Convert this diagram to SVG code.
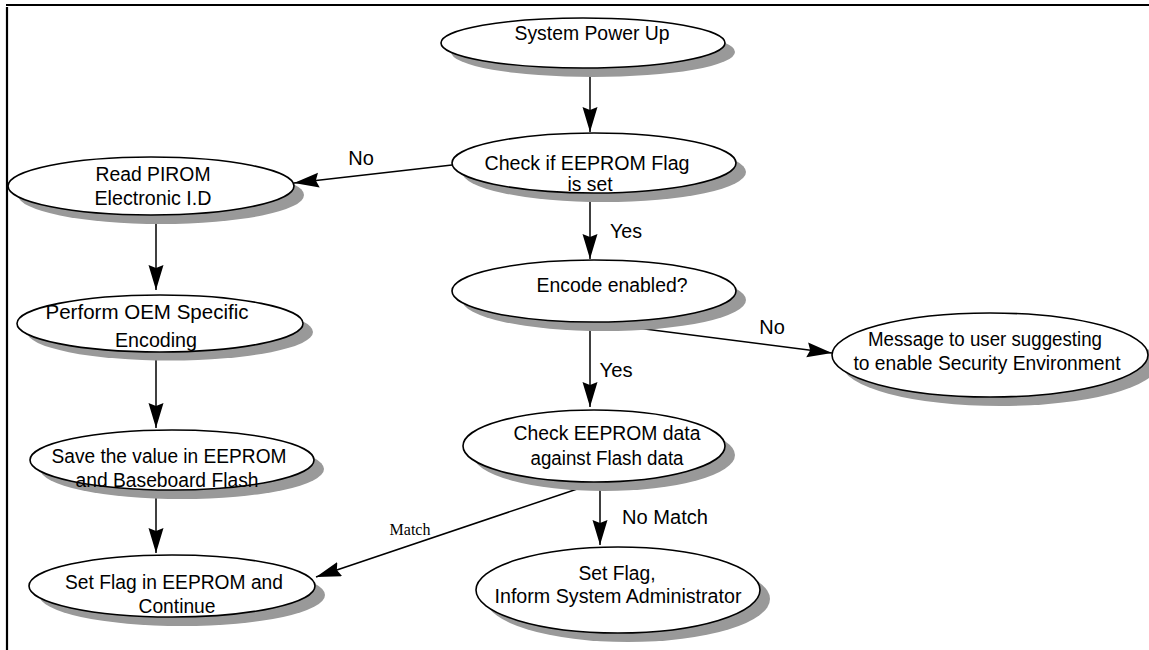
<svg xmlns="http://www.w3.org/2000/svg" width="1149" height="650" viewBox="0 0 1149 650">
<style>
.sh{fill:#999999;stroke:none}
.el{fill:#ffffff;stroke:#000000;stroke-width:1.6}
.t{font-family:"Liberation Sans",Arial,sans-serif;font-size:20px;fill:#000;text-anchor:middle}
.lb{font-family:"Liberation Sans",Arial,sans-serif;font-size:20px;fill:#000;text-anchor:middle}
.ls{font-family:"Liberation Serif","Times New Roman",serif;font-size:16px;fill:#000;text-anchor:middle}
.ln{stroke:#000;stroke-width:1.5;fill:none;marker-end:url(#ah)}
.bd{stroke:#000;stroke-width:2.2;fill:none}
</style>
<defs>
<marker id="ah" markerUnits="userSpaceOnUse" markerWidth="26" markerHeight="16" refX="25" refY="7.5" orient="auto">
<path d="M0,0 L25,7.5 L0,15 L3,7.5 z" fill="#000"/>
</marker>
</defs>
<rect width="1149" height="650" fill="#fff"/>
<g id="border">
<line class="bd" x1="6" y1="5" x2="1149" y2="5"/>
<line class="bd" x1="7" y1="7" x2="7" y2="650"/>
</g>
<g id="connectors">
<line class="ln" x1="590" y1="68" x2="590" y2="132"/>
<line class="ln" x1="452" y1="165" x2="294" y2="183"/>
<line class="ln" x1="590" y1="193" x2="590" y2="259"/>
<line class="ln" x1="156" y1="215" x2="156" y2="290"/>
<line class="ln" x1="156" y1="352" x2="156" y2="428"/>
<line class="ln" x1="156" y1="490" x2="156" y2="553"/>
<line class="ln" x1="590" y1="322" x2="590" y2="407"/>
<line class="ln" x1="590" y1="322" x2="832" y2="353"/>
<line class="ln" x1="600" y1="482" x2="600" y2="545"/>
<line class="ln" x1="598" y1="482" x2="316" y2="577"/>
<text class="lb" x="361" y="165">No</text>
<text class="lb" x="626" y="238" textLength="32" lengthAdjust="spacingAndGlyphs">Yes</text>
<text class="lb" x="616" y="377" textLength="33" lengthAdjust="spacingAndGlyphs">Yes</text>
<text class="lb" x="772" y="334">No</text>
<text class="lb" x="665" y="524" textLength="86" lengthAdjust="spacingAndGlyphs">No Match</text>
<text class="ls" x="410" y="535">Match</text>
</g>
<g id="n_power">
<ellipse class="sh" cx="593" cy="52" rx="142" ry="25"/>
<ellipse class="el" cx="583" cy="43" rx="142" ry="25"/>
<text class="t" x="592" y="40" textLength="155" lengthAdjust="spacingAndGlyphs">System Power Up</text>
</g>
<g id="n_checkflag">
<ellipse class="sh" cx="604" cy="172" rx="142" ry="30"/>
<ellipse class="el" cx="594" cy="163" rx="142" ry="30"/>
<text class="t" x="587" y="170" textLength="205" lengthAdjust="spacingAndGlyphs">Check if EEPROM Flag</text>
<text class="t" x="590" y="191" textLength="45" lengthAdjust="spacingAndGlyphs">is set</text>
</g>
<g id="n_readpirom">
<ellipse class="sh" cx="161" cy="195" rx="143" ry="29"/>
<ellipse class="el" cx="151" cy="186" rx="143" ry="29"/>
<text class="t" x="153" y="181" textLength="115" lengthAdjust="spacingAndGlyphs">Read PIROM</text>
<text class="t" x="153" y="205" textLength="117" lengthAdjust="spacingAndGlyphs">Electronic I.D</text>
</g>
<g id="n_perform">
<ellipse class="sh" cx="170" cy="332" rx="143" ry="28.5"/>
<ellipse class="el" cx="160" cy="323.5" rx="143" ry="28.5"/>
<text class="t" x="147" y="319" textLength="203" lengthAdjust="spacingAndGlyphs">Perform OEM Specific</text>
<text class="t" x="156" y="347" textLength="82" lengthAdjust="spacingAndGlyphs">Encoding</text>
</g>
<g id="n_save">
<ellipse class="sh" cx="182" cy="469" rx="142" ry="30"/>
<ellipse class="el" cx="172" cy="460" rx="142" ry="30"/>
<text class="t" x="169" y="463" textLength="235" lengthAdjust="spacingAndGlyphs">Save the value in EEPROM</text>
<text class="t" x="167" y="487" textLength="183" lengthAdjust="spacingAndGlyphs">and Baseboard Flash</text>
</g>
<g id="n_setflag">
<ellipse class="sh" cx="182" cy="595" rx="143" ry="31"/>
<ellipse class="el" cx="172" cy="586" rx="143" ry="31"/>
<text class="t" x="174" y="589" textLength="218" lengthAdjust="spacingAndGlyphs">Set Flag in EEPROM and</text>
<text class="t" x="177" y="613" textLength="77" lengthAdjust="spacingAndGlyphs">Continue</text>
</g>
<g id="n_encode">
<ellipse class="sh" cx="604" cy="300" rx="142" ry="31"/>
<ellipse class="el" cx="594" cy="291" rx="142" ry="31"/>
<text class="t" x="612" y="292" textLength="151" lengthAdjust="spacingAndGlyphs">Encode enabled?</text>
</g>
<g id="n_message">
<ellipse class="sh" cx="1000" cy="364" rx="158" ry="42"/>
<ellipse class="el" cx="990" cy="355" rx="158" ry="42"/>
<text class="t" x="985" y="346" textLength="234" lengthAdjust="spacingAndGlyphs">Message to user suggesting</text>
<text class="t" x="987" y="370" textLength="267" lengthAdjust="spacingAndGlyphs">to enable Security Environment</text>
</g>
<g id="n_checkdata">
<ellipse class="sh" cx="604" cy="455" rx="131" ry="36"/>
<ellipse class="el" cx="594" cy="446" rx="131" ry="36"/>
<text class="t" x="607" y="440" textLength="187" lengthAdjust="spacingAndGlyphs">Check EEPROM data</text>
<text class="t" x="607" y="465" textLength="153" lengthAdjust="spacingAndGlyphs">against Flash data</text>
</g>
<g id="n_inform">
<ellipse class="sh" cx="628" cy="599" rx="142" ry="43"/>
<ellipse class="el" cx="618" cy="590" rx="142" ry="43"/>
<text class="t" x="617" y="580" textLength="77" lengthAdjust="spacingAndGlyphs">Set Flag,</text>
<text class="t" x="618" y="603" textLength="247" lengthAdjust="spacingAndGlyphs">Inform System Administrator</text>
</g>
</svg>
